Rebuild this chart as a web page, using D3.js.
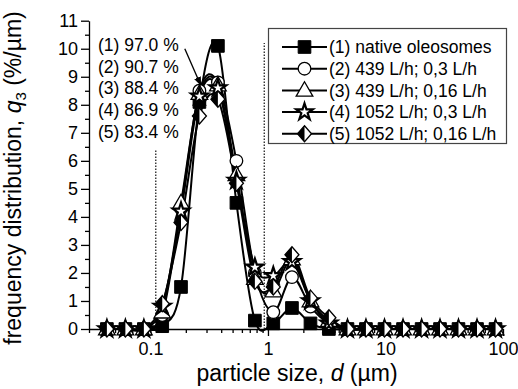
<!DOCTYPE html>
<html>
<head>
<meta charset="utf-8">
<script src="https://cdnjs.cloudflare.com/ajax/libs/d3/7.8.5/d3.min.js"></script>
<style>
body { margin: 0; background: #fff; }
svg { display: block; font-family: "Liberation Sans", Arial, sans-serif; }
</style>
</head>
<body>
<svg id="chart" width="518" height="389"></svg>
<script>
// particle size classes (µm)
var sizes = [0.0426, 0.0612, 0.0879, 0.126, 0.182, 0.261, 0.375, 0.539, 0.774, 1.11, 1.60, 2.30,
             3.30, 4.75, 6.82, 9.81, 14.1, 20.3, 29.1, 41.8, 60.1, 86.4];

// q3 values (%/µm) per sample
var native    = [0, 0, 0, 0.1, 1.5, 8.1, 10.1, 4.5, 0.3, 0.2, 0.75, 0.2, 0, 0, 0, 0, 0, 0, 0, 0, 0, 0];
var s439_03   = [0, 0, 0, 0.5, 4.3, 8.5, 8.8, 6.0, 2.0, 0.6, 1.85, 0.8, 0.2, 0, 0, 0, 0, 0, 0, 0, 0, 0];
var s439_016  = [0, 0, 0, 0.6, 4.5, 8.4, 8.7, 5.5, 1.8, 1.35, 2.5, 1.0, 0.3, 0, 0, 0, 0, 0, 0, 0, 0, 0];
var s1052_03  = [0, 0, 0, 0.8, 4.2, 8.3, 8.6, 5.3, 2.2, 1.9, 2.4, 1.0, 0.2, 0, 0, 0, 0, 0, 0, 0, 0, 0];
var s1052_016 = [0, 0, 0, 0.9, 3.8, 7.6, 8.2, 5.2, 1.7, 1.5, 2.65, 1.1, 0.4, 0, 0, 0, 0, 0, 0, 0, 0, 0];

var seriesLabels = ["(1) native oleosomes", "(2) 439 L/h; 0,3 L/h", "(3) 439 L/h; 0,16 L/h",
                    "(4) 1052 L/h; 0,3 L/h", "(5) 1052 L/h; 0,16 L/h"];
var markerTypes = ["square", "circle", "triangle", "star", "diamond"];
var yieldLabels = ["(1) 97.0 %", "(2) 90.7 %", "(3) 88.4 %", "(4) 86.9 %", "(5) 83.4 %"];

var xTicks = [0.1, 1, 10, 100];
var yTicks = d3.range(0, 12);

// dotted limit lines: size and height
var limitSizes = [0.111, 0.93];
var limitTops = [6.4, 10.2];

// arrow from the yield labels to the peak
var arrowFrom = [0.196, 10.0];
var arrowTo = [0.268, 8.7];

var series = [native, s439_03, s439_016, s1052_03, s1052_016];

var svg = d3.select("#chart");

var x = d3.scaleLog().domain([0.03, 100]).range([89, 503]);
var y = d3.scaleLinear().domain([0, 11]).range([329, 20.7]);

svg.append("defs").append("marker")
    .attr("id", "arrowhead")
    .attr("viewBox", "0 0 10 10")
    .attr("refX", 9).attr("refY", 5)
    .attr("markerWidth", 7).attr("markerHeight", 7)
    .attr("orient", "auto")
  .append("path")
    .attr("d", "M0,1 L10,5 L0,9 Z")
    .attr("fill", "#000");

// limit lines
limitSizes.forEach(function (s, i) {
    svg.append("line")
        .attr("x1", x(s)).attr("x2", x(s))
        .attr("y1", y(0)).attr("y2", y(limitTops[i]))
        .attr("stroke", "#222")
        .attr("stroke-width", 1.3)
        .attr("stroke-dasharray", "1.5,1.5");
});

// axes
var minorX = [];
[0.01, 0.1, 1, 10].forEach(function (dec) {
    for (var k = 2; k <= 9; k++) {
        var v = dec * k;
        if (v >= 0.03 && v < 100) minorX.push(v);
    }
});
var minorY = d3.range(0.5, 11, 1);

svg.append("g")
    .attr("transform", "translate(0," + y(0) + ")")
    .call(d3.axisBottom(x).tickValues(xTicks).tickFormat(d3.format("")).tickSize(7).tickPadding(6).tickSizeOuter(0));
svg.append("g")
    .attr("transform", "translate(0," + y(0) + ")")
    .call(d3.axisBottom(x).tickValues(minorX).tickFormat("").tickSize(4).tickSizeOuter(0))
    .select(".domain").remove();

svg.append("g")
    .attr("transform", "translate(" + x(0.03) + ",0)")
    .call(d3.axisLeft(y).tickValues(yTicks).tickSize(8).tickPadding(3).tickSizeOuter(0));
svg.append("g")
    .attr("transform", "translate(" + x(0.03) + ",0)")
    .call(d3.axisLeft(y).tickValues(minorY).tickFormat("").tickSize(4).tickSizeOuter(0))
    .select(".domain").remove();

svg.selectAll(".tick text").attr("font-size", 18).attr("fill", "#000")
    .attr("font-family", "'Liberation Sans', Arial, sans-serif");
svg.selectAll(".domain, .tick line").attr("stroke", "#000").attr("stroke-width", 1.3);

// axis titles
var xt = svg.append("text")
    .attr("x", 297).attr("y", 381)
    .attr("text-anchor", "middle")
    .attr("font-size", 23);
xt.append("tspan").text("particle size, ");
xt.append("tspan").attr("font-style", "italic").text("d");
xt.append("tspan").text(" (µm)");

var yt = svg.append("text")
    .attr("transform", "translate(21,178) rotate(-90)")
    .attr("text-anchor", "middle")
    .attr("font-size", 23);
yt.append("tspan").text("frequency distribution, ");
yt.append("tspan").attr("font-style", "italic").text("q");
yt.append("tspan").attr("font-size", 15).attr("dy", 5).text("3");
yt.append("tspan").attr("dy", -5).text(" (%/µm)");

// markers
function drawMarker(g, type, cx, cy) {
    var m = g.append("g").attr("transform", "translate(" + cx + "," + cy + ")");
    if (type === "square") {
        m.append("path").attr("d", d3.symbol(d3.symbolSquare, 160)())
            .attr("fill", "#000").attr("stroke", "#000").attr("stroke-width", 1);
    } else if (type === "circle") {
        m.append("path").attr("d", d3.symbol(d3.symbolCircle, 125)())
            .attr("fill", "#fff").attr("stroke", "#000").attr("stroke-width", 1.3);
    } else if (type === "triangle") {
        m.append("path").attr("d", d3.symbol(d3.symbolTriangle, 120)())
            .attr("transform", "translate(0,1)")
            .attr("fill", "#fff").attr("stroke", "#000").attr("stroke-width", 1.3);
    } else if (type === "star") {
        m.append("path").attr("d", d3.symbol(d3.symbolStar, 85)())
            .attr("fill", "#fff").attr("stroke", "#000").attr("stroke-width", 2.2);
    } else if (type === "diamond") {
        m.append("path").attr("d", "M0,-8 L7,0 L0,8 L-7,0 Z")
            .attr("fill", "#fff").attr("stroke", "#000").attr("stroke-width", 1.3);
        m.append("path").attr("d", "M0,-8 L-7,0 L0,8 Z").attr("fill", "#000");
    }
}

var line = d3.line()
    .x(function (d) { return x(d.size); })
    .y(function (d) { return y(d.value); })
    .curve(d3.curveCardinal.tension(0));

var plot = svg.append("g");
series.forEach(function (vals) {
    var pts = vals.map(function (v, i) { return { size: sizes[i], value: v }; });
    plot.append("path")
        .datum(pts)
        .attr("d", line)
        .attr("fill", "none")
        .attr("stroke", "#000")
        .attr("stroke-width", 2);
});
series.forEach(function (vals, si) {
    vals.forEach(function (v, i) {
        drawMarker(plot, markerTypes[si], x(sizes[i]), y(v));
    });
});

// yield annotation
yieldLabels.forEach(function (t, i) {
    svg.append("text")
        .attr("x", 98).attr("y", 51 + i * 21.7)
        .attr("font-size", 17.5)
        .text(t);
});
svg.append("line")
    .attr("x1", x(arrowFrom[0])).attr("y1", y(arrowFrom[1]))
    .attr("x2", x(arrowTo[0])).attr("y2", y(arrowTo[1]))
    .attr("stroke", "#000").attr("stroke-width", 1.3)
    .attr("marker-end", "url(#arrowhead)");

// legend
var legend = svg.append("g");
legend.append("rect")
    .attr("x", 268.5).attr("y", 28.5)
    .attr("width", 238).attr("height", 115)
    .attr("fill", "#fff").attr("stroke", "#444").attr("stroke-width", 1.2);
seriesLabels.forEach(function (lab, i) {
    var ly = 47 + i * 21.7;
    legend.append("line")
        .attr("x1", 282).attr("x2", 327)
        .attr("y1", ly).attr("y2", ly)
        .attr("stroke", "#000").attr("stroke-width", 2);
    drawMarker(legend, markerTypes[i], 304.5, ly);
    legend.append("text")
        .attr("x", 329).attr("y", ly + 6.3)
        .attr("font-size", 17.5)
        .text(lab);
});
</script>
</body>
</html>
